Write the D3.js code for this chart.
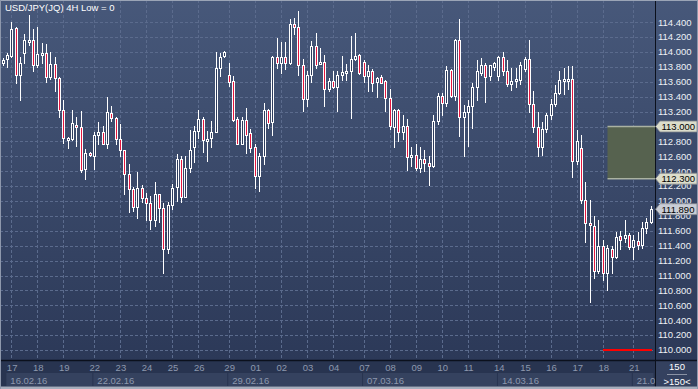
<!DOCTYPE html>
<html><head><meta charset="utf-8">
<script src="https://cdn.jsdelivr.net/npm/d3@7"></script>
<style>html,body{margin:0;padding:0;background:#283450;}svg{display:block;}</style>
</head><body>
<script>
const open = [
113.85,113.90,113.95,114.32,113.69,113.98,114.14,114.16,113.82,113.97,
113.98,113.66,113.84,113.65,113.22,112.83,112.83,113.02,113.00,112.43,
112.65,112.60,112.89,112.92,112.77,113.18,113.12,112.83,112.68,112.36,
112.16,111.92,112.17,112.04,111.97,111.75,112.09,111.90,111.35,111.94,
112.19,112.56,112.06,112.44,112.72,112.94,113.10,112.81,112.84,112.93,
113.79,113.94,113.69,113.61,113.10,112.77,113.09,112.91,112.72,112.34,
112.60,113.22,113.06,113.93,113.85,113.93,113.85,114.38,114.33,113.82,
113.37,113.69,114.08,113.85,113.86,113.51,113.61,113.53,113.69,113.73,
113.74,113.90,113.96,113.86,113.68,113.75,113.60,113.66,113.61,113.38,
113.00,113.22,112.92,113.01,112.59,112.62,112.44,112.57,112.51,112.47,
113.07,113.41,113.31,113.76,113.41,114.16,113.13,113.19,113.28,113.53,
113.72,113.83,113.68,113.80,113.68,113.93,113.74,113.57,113.61,113.62,
113.77,113.90,113.30,112.99,112.73,112.97,113.16,113.30,113.45,113.63,
113.63,113.64,112.54,112.71,112.02,111.70,111.67,111.06,111.39,111.04,
111.36,111.25,111.53,111.50,111.54,111.38,111.46,111.41,111.64,111.72];
const high = [
113.92,113.99,114.40,114.33,113.93,114.24,114.50,114.31,114.33,114.12,
114.11,114.00,113.93,113.67,113.36,112.86,113.22,113.13,113.21,112.70,
112.66,112.92,113.06,113.01,113.40,113.27,113.13,113.04,112.69,112.50,
112.19,112.39,112.21,112.11,112.07,112.25,112.10,111.97,111.98,112.23,
112.63,112.60,112.60,112.95,113.01,113.22,113.13,112.94,113.07,114.00,
113.98,114.01,113.85,113.68,113.13,113.13,113.25,112.97,112.77,112.64,
113.32,113.24,113.94,114.19,114.14,114.13,114.44,114.45,114.55,113.91,
113.74,114.15,114.26,114.05,113.96,113.65,113.74,113.74,113.95,113.84,
114.21,114.26,113.97,113.89,113.82,113.77,113.67,113.69,113.62,113.51,
113.24,113.24,113.15,113.10,112.73,112.77,112.73,112.68,112.60,113.16,
113.45,113.45,113.81,113.77,114.18,114.44,113.29,113.36,113.59,113.89,
113.92,113.85,113.83,113.87,113.95,114.00,113.89,113.78,113.79,113.87,
113.93,114.16,113.48,113.19,113.06,113.18,113.37,113.56,113.75,113.78,
113.81,113.81,112.95,112.89,112.26,112.01,111.80,111.74,111.47,111.41,
111.39,111.58,111.60,111.74,111.57,111.54,111.59,111.72,111.77,111.93];
const low = [
113.83,113.80,113.93,113.58,113.36,113.85,114.09,113.74,113.80,113.85,
113.60,113.64,113.47,113.13,112.78,112.71,112.82,112.74,112.39,112.30,
112.60,112.43,112.77,112.76,112.71,113.07,112.77,112.60,112.09,111.85,
111.87,111.77,111.98,111.75,111.63,111.66,111.72,111.03,111.30,111.89,
112.00,111.98,112.05,112.39,112.53,112.85,112.66,112.54,112.73,112.92,
113.68,113.93,113.54,113.08,112.76,112.76,112.65,112.66,112.18,112.14,
112.49,112.98,112.89,113.78,113.72,113.77,113.84,114.24,113.69,113.21,
113.28,113.60,113.79,113.84,113.28,113.47,113.52,113.21,113.62,113.62,
113.11,113.89,113.71,113.60,113.48,113.48,113.39,113.58,113.21,112.97,
112.73,112.80,112.83,112.42,112.47,112.42,112.39,112.40,112.21,112.46,
113.03,113.15,113.28,113.39,113.36,112.87,112.60,112.74,112.98,113.35,
113.69,113.33,113.62,113.76,113.62,113.69,113.55,113.49,113.53,113.57,
113.74,113.20,112.92,112.61,112.62,112.93,113.10,113.28,113.43,113.44,
113.51,112.32,112.50,111.97,111.45,110.65,110.96,111.04,110.94,110.81,
111.03,111.24,111.35,111.45,111.35,111.22,111.36,111.37,111.57,111.71];
const close = [
113.89,113.96,114.31,113.69,113.85,114.16,114.16,113.82,113.97,113.99,
113.67,113.84,113.65,113.22,112.84,112.85,113.05,113.00,112.41,112.65,
112.62,112.89,112.92,112.77,113.19,113.11,112.83,112.68,112.36,112.16,
111.92,112.17,112.04,111.97,111.75,112.09,111.90,111.35,111.94,112.18,
112.56,112.06,112.44,112.68,112.94,113.10,112.82,112.83,112.93,113.79,
113.93,114.00,113.60,113.09,112.77,113.09,112.89,112.71,112.34,112.60,
113.22,113.05,113.93,113.85,113.93,113.85,114.38,114.33,113.82,113.37,
113.69,114.08,113.83,113.87,113.51,113.61,113.53,113.69,113.73,113.75,
113.91,113.95,113.72,113.68,113.75,113.58,113.65,113.59,113.38,113.01,
113.22,112.92,113.01,112.59,112.62,112.44,112.57,112.51,112.47,113.07,
113.41,113.31,113.76,113.41,114.16,113.13,113.19,113.28,113.53,113.74,
113.83,113.66,113.82,113.85,113.93,113.74,113.57,113.61,113.64,113.83,
113.90,113.30,112.99,112.73,112.97,113.16,113.30,113.45,113.63,113.64,
113.64,112.54,112.81,112.02,111.70,111.68,111.06,111.40,111.04,111.37,
111.25,111.52,111.48,111.54,111.38,111.47,111.41,111.64,111.72,111.89];

const yTicks = [110.0,110.2,110.4,110.6,110.8,111.0,111.2,111.4,111.6,111.8,112.0,112.2,
                112.4,112.6,112.8,113.0,113.2,113.4,113.6,113.8,114.0,114.2,114.4];
const dayLabels = ["17","18","19","22","23","24","25","26","29","01","02","03","04",
                   "07","08","09","10","11","14","15","16","17","18","21"];
const dayBars = [1,7,13,20,26,32,38,44,51,57,63,69,75,82,88,94,100,106,113,119,125,131,137,144];
const weekLabels = ["16.02.16","22.02.16","29.02.16","07.03.16","14.03.16","21.03"];
const weekBars = [0,20,51,82,113,144];
const title = "USD/JPY(JQ) 4H Low = 0";
const zoneTop = 113.000, zoneBottom = 112.300;
const lastPrice = 111.890;
const lowLevel = 110.000;
const barCount = "150";
const barCountSub = ">150<";

const W = 698, H = 389, plotR = 655, plotB = 360;
const font = "Liberation Sans, Arial, sans-serif";
const svg = d3.select("body").append("svg").attr("width", W).attr("height", H);

const defs = svg.append("defs");
const g = defs.append("linearGradient").attr("id","bg").attr("x1",0).attr("y1",0).attr("x2",0).attr("y2",1);
g.append("stop").attr("offset","0%").attr("stop-color","#47587a");
g.append("stop").attr("offset","100%").attr("stop-color","#2c3958");
defs.append("clipPath").attr("id","plotclip").append("rect").attr("x",1).attr("y",1).attr("width",plotR-1).attr("height",plotB-1);
defs.append("clipPath").attr("id","axclip").append("rect").attr("x",0).attr("y",360).attr("width",plotR).attr("height",29);

const x = d3.scaleLinear().domain([0, 149]).range([2.5, 650.7]);
const y = d3.scaleLinear().domain([110, 114.4]).range([350, 22.2]);

// backgrounds
svg.append("rect").attr("x",0).attr("y",0).attr("width",W).attr("height",plotB).attr("fill","url(#bg)");
svg.append("rect").attr("x",0).attr("y",plotB).attr("width",W).attr("height",H-plotB).attr("fill","#283450");

const plot = svg.append("g").attr("clip-path","url(#plotclip)");
// grid
plot.selectAll("line.hg").data(yTicks).join("line")
  .attr("x1",0).attr("x2",plotR).attr("y1",d=>Math.round(y(d))+0.5).attr("y2",d=>Math.round(y(d))+0.5)
  .attr("stroke","#5b6b8d").attr("stroke-dasharray","3,2").attr("stroke-width",1);
plot.selectAll("line.vg").data(dayBars).join("line")
  .attr("y1",0).attr("y2",plotB).attr("x1",d=>Math.round(x(d+1))+0.5).attr("x2",d=>Math.round(x(d+1))+0.5)
  .attr("stroke","#5b6b8d").attr("stroke-dasharray","3,2").attr("stroke-width",1);

// zone rectangle
plot.append("rect").attr("x",607.5).attr("y",y(zoneTop)).attr("width",plotR-607.5).attr("height",y(zoneBottom)-y(zoneTop))
  .attr("fill","#56624f");
[zoneTop, zoneBottom].forEach(v=>{
  plot.append("line").attr("x1",607.5).attr("x2",plotR).attr("y1",y(v)).attr("y2",y(v))
    .attr("stroke","#aab2a2").attr("stroke-width",1.5);
});

// low level line
plot.append("line").attr("x1",603).attr("x2",652).attr("y1",y(lowLevel)).attr("y2",y(lowLevel))
  .attr("stroke","#ff0000").attr("stroke-width",2);

// candles
const idx = d3.range(open.length);
const candles = plot.append("g").attr("shape-rendering","crispEdges");
candles.selectAll("line.wick").data(idx).join("line")
  .attr("x1",i=>Math.round(x(i))+0.5).attr("x2",i=>Math.round(x(i))+0.5)
  .attr("y1",i=>Math.round(y(high[i]))).attr("y2",i=>Math.round(y(low[i]))+1)
  .attr("stroke","#ffffff").attr("stroke-width",1);
candles.selectAll("rect.body").data(idx).join("rect")
  .attr("x",i=>Math.round(x(i))-0.5)
  .attr("y",i=>Math.round(y(Math.max(open[i],close[i])))+0.5)
  .attr("width",2)
  .attr("height",i=>Math.max(2, Math.round(y(Math.min(open[i],close[i])))-Math.round(y(Math.max(open[i],close[i])))))
  .attr("fill",i=>close[i] < open[i] ? "#e4173f" : "#2f3d5e")
  .attr("stroke","#ffffff").attr("stroke-width",1);

// title
svg.append("text").attr("x",5).attr("y",11).attr("fill","#ffffff").attr("font-family",font).attr("font-size",9.5).text(title);

// frame lines
svg.append("line").attr("x1",0).attr("x2",W).attr("y1",plotB+0.5).attr("y2",plotB+0.5).attr("stroke","#0b101c").attr("stroke-width",1.5);
svg.append("line").attr("x1",plotR+0.5).attr("x2",plotR+0.5).attr("y1",0).attr("y2",387).attr("stroke","#0b101c").attr("stroke-width",1);

// right axis labels
svg.selectAll("text.yt").data(yTicks).join("text")
  .attr("x",658).attr("y",d=>y(d)).attr("dy","0.35em")
  .attr("fill","#eef1f6").attr("font-family",font).attr("font-size",9.5)
  .text(d=>d3.format(".3f")(d));

// price tags
function tag(v, fill){
  const yy = y(v);
  svg.append("path")
    .attr("d",`M655.5,${yy} L660,${yy-5.5} L697,${yy-5.5} L697,${yy+5.5} L660,${yy+5.5} Z`)
    .attr("fill",fill).attr("stroke","#7c8088").attr("stroke-width",0.8);
  svg.append("text").attr("x",661.5).attr("y",yy).attr("dy","0.36em").attr("fill","#000")
    .attr("font-family",font).attr("font-size",9.5).text(d3.format(".3f")(v));
}
tag(zoneTop, "#dcddcb");
tag(zoneBottom, "#dcddcb");
tag(lastPrice, "#c9cdd6");

// bottom axis
const ax = svg.append("g").attr("clip-path","url(#axclip)");
const wb = weekBars.map(b=>x(b+1));
ax.selectAll("rect.wk").data(weekBars).join("rect")
  .attr("x",(d,i)=>wb[i]-0.5).attr("y",373)
  .attr("width",(d,i)=>(i<wb.length-1? wb[i+1]-wb[i] : plotR-wb[i]) - 1)
  .attr("height",13).attr("fill","#35425f");
ax.selectAll("text.wk").data(weekLabels).join("text")
  .attr("x",(d,i)=>wb[i]+3.5).attr("y",383.5)
  .attr("fill","#8d98ae").attr("font-family",font).attr("font-size",9.5).text(d=>d);
ax.selectAll("text.day").data(dayLabels).join("text")
  .attr("x",(d,i)=>x(dayBars[i])).attr("y",370.5)
  .attr("fill","#8d98ae").attr("font-family",font).attr("font-size",9.5).text(d=>d);

// bottom-right box
svg.append("rect").attr("x",656).attr("y",361.5).attr("width",41).attr("height",25).attr("fill","#34415f");
svg.append("text").attr("x",677).attr("y",370).attr("text-anchor","middle").attr("fill","#ffffff")
  .attr("font-family",font).attr("font-size",9.5).text(barCount);
svg.append("line").attr("x1",667).attr("x2",687).attr("y1",374.5).attr("y2",374.5).attr("stroke","#8a92a4");
svg.append("text").attr("x",677).attr("y",384.5).attr("text-anchor","middle").attr("fill","#ffffff")
  .attr("font-family",font).attr("font-size",9.5).text(barCountSub);

// outer frame
svg.append("rect").attr("x",0).attr("y",386.5).attr("width",W).attr("height",2.5).attr("fill","#a6aebd");
svg.append("line").attr("x1",0).attr("x2",W).attr("y1",0.5).attr("y2",0.5).attr("stroke","#9aa4b6");
svg.append("line").attr("x1",0.5).attr("x2",0.5).attr("y1",0).attr("y2",H).attr("stroke","#8e98ac");
svg.append("line").attr("x1",W-0.5).attr("x2",W-0.5).attr("y1",0).attr("y2",H).attr("stroke","#8e98ac");
</script>
</body></html>
